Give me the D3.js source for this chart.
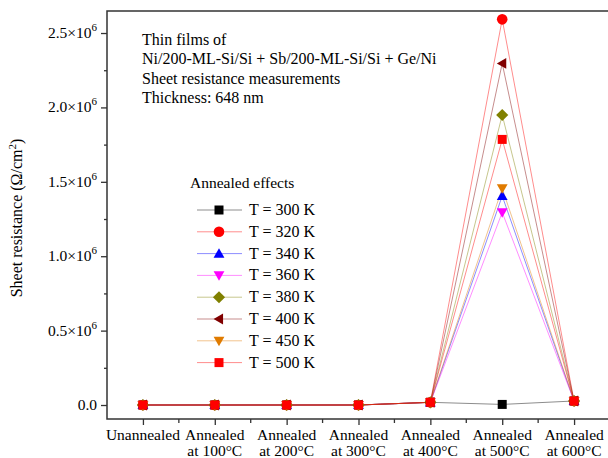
<!DOCTYPE html>
<html>
<head>
<meta charset="utf-8">
<script src="https://cdn.jsdelivr.net/npm/d3@7"></script>
<style>
  body { margin: 0; background: #fff; }
  text { font-family: "Liberation Serif", "Times New Roman", serif; }
</style>
</head>
<body>
<svg id="chart" width="608" height="458"></svg>
<script>
// categories along x
const categories = ["Unannealed", "Annealed at 100°C", "Annealed at 200°C", "Annealed at 300°C",
                    "Annealed at 400°C", "Annealed at 500°C", "Annealed at 600°C"];

// series values (Ω/cm²)
const t300 = [0, 0, 0, 0, 18000, 4000, 27000];
const t320 = [0, 0, 0, 0, 18000, 2592000, 27000];
const t340 = [0, 0, 0, 0, 18000, 1405000, 27000];
const t360 = [0, 0, 0, 0, 18000, 1295000, 27000];
const t380 = [0, 0, 0, 0, 18000, 1949000, 27000];
const t400 = [0, 0, 0, 0, 18000, 2296000, 27000];
const t450 = [0, 0, 0, 0, 18000, 1456000, 27000];
const t500 = [0, 0, 0, 0, 18000, 1785000, 27000];

const seriesNames = ["T = 300 K", "T = 320 K", "T = 340 K", "T = 360 K",
                     "T = 380 K", "T = 400 K", "T = 450 K", "T = 500 K"];
const seriesValues = [t300, t320, t340, t360, t380, t400, t450, t500];
const seriesColors = ["#000000", "#ff0000", "#0000ff", "#ff00ff", "#808000", "#800000", "#e07b00", "#ff0000"];
const seriesShapes = ["square", "circle", "triangle", "down", "diamond", "left", "down", "square"];

const yTicks = [0, 0.5e6, 1.0e6, 1.5e6, 2.0e6, 2.5e6];
const yTickLabels = ["0.0", "0.5", "1.0", "1.5", "2.0", "2.5"];

const noteLines = ["Thin  films of", "Ni/200-ML-Si/Si + Sb/200-ML-Si/Si + Ge/Ni",
                   "Sheet resistance measurements", "Thickness: 648 nm"];

const margin = { top: 11, right: -2, bottom: 39, left: 107 },
      width = 608 - margin.left - margin.right,
      height = 458 - margin.top - margin.bottom;

const svg = d3.select("#chart")
  .append("g")
  .attr("transform", `translate(${margin.left},${margin.top})`);

// X scale: categories with half-step padding on both ends
const x = d3.scalePoint()
  .domain(categories)
  .range([0, width])
  .padding(0.5);
const step = x.step();

const y = d3.scaleLinear()
  .domain([-0.094e6, 2.648e6])
  .range([height, 0]);

const axisColor = "#333";

// frame
svg.append("rect")
  .attr("x", 0).attr("y", 0)
  .attr("width", width).attr("height", height)
  .attr("fill", "none")
  .attr("stroke", axisColor)
  .attr("stroke-width", 1.5);

// Y axis major
const yAxis = svg.append("g")
  .call(d3.axisLeft(y).tickValues(yTicks).tickSize(6).tickFormat(""));
yAxis.select(".domain").remove();
yAxis.selectAll("line").attr("stroke", axisColor).attr("stroke-width", 1.3);

// Y minor ticks
const yMinor = svg.append("g")
  .call(d3.axisLeft(y).tickValues([0.25e6, 0.75e6, 1.25e6, 1.75e6, 2.25e6]).tickSize(3).tickFormat(""));
yMinor.select(".domain").remove();
yMinor.selectAll("line").attr("stroke", axisColor).attr("stroke-width", 1.3);

// Y tick labels with ×10^6
yTicks.forEach((v, i) => {
  const t = svg.append("text")
    .attr("x", -10)
    .attr("y", y(v) + 5)
    .attr("text-anchor", "end")
    .style("font-size", "15.5px");
  if (v === 0) {
    t.text("0.0");
  } else {
    t.append("tspan").text(yTickLabels[i] + "×10");
    t.append("tspan").attr("dy", -7).style("font-size", "11px").text("6");
  }
});

// X axis ticks
const xAxis = svg.append("g")
  .attr("transform", `translate(0,${height})`)
  .call(d3.axisBottom(x).tickSize(6).tickFormat(""));
xAxis.select(".domain").remove();
xAxis.selectAll("line").attr("stroke", axisColor).attr("stroke-width", 1.3);

// X minor ticks between categories
const xMinorPos = categories.slice(0, -1).map(c => x(c) + step / 2);
svg.append("g")
  .selectAll("line")
  .data(xMinorPos)
  .join("line")
  .attr("x1", d => d).attr("x2", d => d)
  .attr("y1", height).attr("y2", height + 4)
  .attr("stroke", axisColor)
  .attr("stroke-width", 1.3);

// X labels, two lines
categories.forEach(c => {
  const parts = c.startsWith("Annealed") ? ["Annealed", c.replace("Annealed ", "")] : [c];
  parts.forEach((p, j) => {
    svg.append("text")
      .attr("x", x(c))
      .attr("y", height + 21 + j * 15.5)
      .attr("text-anchor", "middle")
      .style("font-size", "15.5px")
      .text(p);
  });
});

// Y axis label
svg.append("text")
  .attr("transform", `translate(${-85},${height / 2 + 3}) rotate(-90)`)
  .attr("text-anchor", "middle")
  .style("font-size", "16px")
  .text("Sheet resistance (Ω/cm")
  .append("tspan").attr("dy", -6).style("font-size", "11px").text("2")
  .select(function() { return this.parentNode; })
  .append("tspan").attr("dy", 6).text(")");

// marker symbol generator
function markerPath(shape, s) {
  switch (shape) {
    case "square": return `M${-s},${-s}H${s}V${s}H${-s}Z`;
    case "circle": return d3.symbol(d3.symbolCircle, Math.PI * (s + 0.8) * (s + 0.8))();
    case "triangle": return `M0,${-s * 1.2}L${s * 1.2},${s * 0.9}L${-s * 1.2},${s * 0.9}Z`;
    case "down": return `M0,${s * 1.2}L${s * 1.2},${-s * 0.9}L${-s * 1.2},${-s * 0.9}Z`;
    case "diamond": return `M0,${-s * 1.35}L${s * 1.35},0L0,${s * 1.35}L${-s * 1.35},0Z`;
    case "left": return `M${-s * 1.2},0L${s * 0.9},${-s * 1.2}L${s * 0.9},${s * 1.2}Z`;
  }
}

const line = d3.line()
  .x((d, i) => x(categories[i]))
  .y(d => y(d));

// lines
seriesValues.forEach((vals, k) => {
  svg.append("path")
    .datum(vals)
    .attr("d", line)
    .attr("fill", "none")
    .attr("stroke", seriesColors[k])
    .attr("stroke-opacity", 0.45)
    .attr("stroke-width", 1);
});

// markers
seriesValues.forEach((vals, k) => {
  svg.append("g")
    .selectAll("path")
    .data(vals)
    .join("path")
    .attr("transform", (d, i) => `translate(${x(categories[i])},${y(d)})`)
    .attr("d", markerPath(seriesShapes[k], 4.5))
    .attr("fill", seriesColors[k]);
});

// note text
noteLines.forEach((t, i) => {
  svg.append("text")
    .attr("x", 35)
    .attr("y", 34 + i * 19.3)
    .style("font-size", "16px")
    .text(t);
});

// legend
svg.append("text")
  .attr("x", 83)
  .attr("y", 177)
  .style("font-size", "15.5px")
  .text("Annealed effects");

seriesNames.forEach((name, k) => {
  const ly = 199 + k * 21.8;
  const g = svg.append("g");
  g.append("line")
    .attr("x1", 90).attr("x2", 135)
    .attr("y1", ly).attr("y2", ly)
    .attr("stroke", seriesColors[k])
    .attr("stroke-opacity", 0.45);
  g.append("path")
    .attr("transform", `translate(112,${ly})`)
    .attr("d", markerPath(seriesShapes[k], 4.5))
    .attr("fill", seriesColors[k]);
  g.append("text")
    .attr("x", 142)
    .attr("y", ly + 5)
    .style("font-size", "16px")
    .text(name);
});
</script>
</body>
</html>
